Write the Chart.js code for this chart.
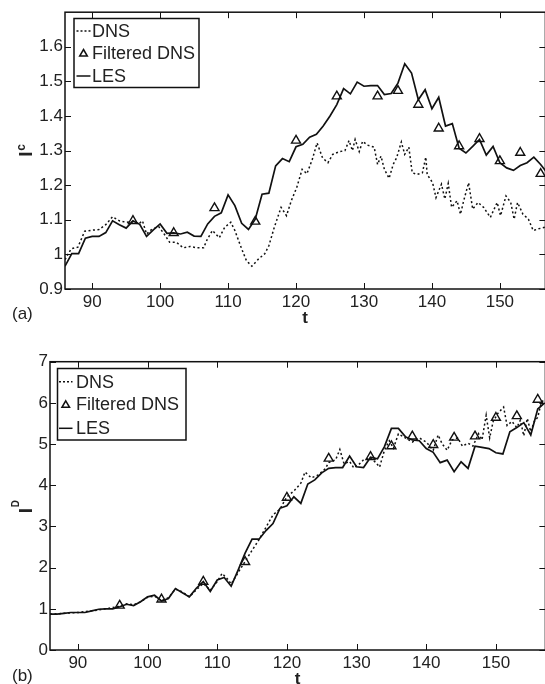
<!DOCTYPE html>
<html>
<head>
<meta charset="utf-8">
<script src="https://cdn.jsdelivr.net/npm/chart.js@4.4.0/dist/chart.umd.min.js"></script>
<style>
html, body { margin: 0; padding: 0; background: #fff; overflow: hidden; width: 545px; height: 684px; }
canvas { position: absolute; left: 0; }
#chartA { top: 0; }
#chartB { top: 340px; }
</style>
</head>
<body>
<canvas id="chartA" width="552" height="340"></canvas>
<canvas id="chartB" width="552" height="344"></canvas>
<script>
// series names
const seriesNames = ['DNS', 'Filtered DNS', 'LES'];

// axis ticks
const xTicks = [90, 100, 110, 120, 130, 140, 150];
const yTicksA = [0.9, 1, 1.1, 1.2, 1.3, 1.4, 1.5, 1.6];
const yTicksB = [0, 1, 2, 3, 4, 5, 6, 7];

// panel (a): I^c
const dnsTA = [86, 86.9, 87.9, 88.9, 90, 91, 92, 93, 94, 95, 96, 96.8, 97.4, 98, 98.8, 99.8, 100.6, 101.4, 102.4, 103.4,
  104.4, 105.4, 106.4, 106.9, 107.7, 108.7, 109.5, 110.4, 111, 112, 112.7, 113.5, 114.5, 115.4, 116, 116.8, 117.8, 118.6, 119.3, 120.1,
  120.9, 121.6, 122.4, 123.1, 123.9, 124.7, 125.4, 126.4, 127.2, 127.8, 128.3, 128.7, 129.3, 129.8, 130.5, 131.5, 132, 132.5, 133, 133.7,
  134.3, 134.8, 135.5, 136, 136.6, 137.1, 137.8, 138.6, 139.1, 139.3, 140.1, 140.6, 141.4, 141.9, 142.4, 142.9, 143.7, 144.2, 144.7, 145.4,
  146, 146.8, 147.6, 148.6, 149.6, 150.1, 150.9, 151.6, 152.1, 152.6, 153.4, 154.2, 154.9, 155.7, 157];
const dnsA = [0.985, 1.016, 1.021, 1.067, 1.070, 1.072, 1.086, 1.109, 1.097, 1.093, 1.095, 1.088, 1.097, 1.059, 1.073, 1.080, 1.059, 1.035, 1.035, 1.019,
  1.023, 1.019, 1.019, 1.042, 1.069, 1.048, 1.078, 1.093, 1.069, 1.016, 0.982, 0.966, 0.987, 1.002, 1.025, 1.078, 1.136, 1.112, 1.155, 1.193,
  1.246, 1.233, 1.275, 1.322, 1.279, 1.265, 1.289, 1.297, 1.300, 1.329, 1.300, 1.332, 1.297, 1.327, 1.316, 1.310, 1.260, 1.284, 1.246, 1.220,
  1.260, 1.279, 1.325, 1.289, 1.310, 1.236, 1.231, 1.236, 1.281, 1.231, 1.207, 1.164, 1.203, 1.160, 1.205, 1.136, 1.155, 1.116, 1.157, 1.207,
  1.131, 1.150, 1.136, 1.107, 1.150, 1.112, 1.169, 1.150, 1.102, 1.150, 1.116, 1.102, 1.069, 1.074, 1.080];

const filtT = [96, 102, 108, 114, 120, 126, 132, 135, 138, 141, 144, 147, 150, 153, 156];
const filtA = [1.097, 1.062, 1.134, 1.095, 1.329, 1.457, 1.457, 1.473, 1.433, 1.364, 1.313, 1.334, 1.270, 1.294, 1.233];

const lesT = [86, 87, 88, 89, 90, 91, 92, 93, 94, 95, 96, 97, 98, 99, 100, 101, 102, 103, 104, 105,
  106, 107, 108, 109, 110, 111, 112, 113, 114, 115, 116, 117, 118, 119, 120, 121, 122, 123, 124, 125,
  126, 127, 128, 129, 130, 131, 132, 133, 134, 135, 136, 137, 138, 139, 140, 141, 142, 143, 144, 145,
  146, 147, 148, 149, 150, 151, 152, 153, 154, 155, 156, 157];
const lesA = [0.966, 1.002, 1.002, 1.047, 1.052, 1.052, 1.063, 1.097, 1.086, 1.076, 1.097, 1.087, 1.052, 1.071, 1.088, 1.061, 1.062, 1.059, 1.064, 1.053,
  1.052, 1.088, 1.110, 1.120, 1.172, 1.141, 1.090, 1.072, 1.102, 1.174, 1.177, 1.256, 1.277, 1.268, 1.311, 1.318, 1.339, 1.347, 1.371, 1.400,
  1.433, 1.479, 1.464, 1.498, 1.486, 1.488, 1.488, 1.462, 1.465, 1.495, 1.551, 1.524, 1.447, 1.476, 1.421, 1.454, 1.371, 1.378, 1.307, 1.293,
  1.312, 1.332, 1.287, 1.312, 1.265, 1.250, 1.243, 1.257, 1.265, 1.281, 1.260, 1.235];

// panel (b): I^D
const dnsTB = [86, 88, 90, 92, 94, 96, 97, 98, 99, 100, 101, 102, 103, 104, 105, 106, 107, 108, 109, 110,
  110.7, 111.5, 112, 113, 114, 115, 116, 117, 118, 119, 120, 121, 122, 122.6, 123.5, 124.5, 125.5, 126, 127, 127.6,
  128.2, 129, 129.6, 130.3, 131, 132, 132.7, 133.3, 134, 134.7, 135.3, 136, 137, 138, 139, 140, 141, 141.7, 142.3, 143,
  143.7, 144.5, 145.2, 146, 146.7, 147.5, 148, 148.6, 149.1, 149.6, 150.3, 151.1, 151.6, 152.3, 153, 153.5, 154, 154.5, 155, 155.5,
  156, 156.5, 157];
const dnsB = [0.87, 0.89, 0.91, 0.95, 1.00, 1.06, 1.12, 1.10, 1.17, 1.28, 1.31, 1.20, 1.27, 1.48, 1.41, 1.29, 1.46, 1.62, 1.45, 1.66,
  1.86, 1.72, 1.60, 1.88, 2.15, 2.42, 2.68, 2.98, 3.28, 3.42, 3.72, 3.86, 4.05, 4.32, 4.18, 4.25, 4.40, 4.55, 4.62, 4.87,
  4.52, 4.58, 4.42, 4.50, 4.62, 4.66, 4.56, 4.44, 4.85, 5.08, 4.90, 5.25, 5.15, 5.05, 5.15, 5.05, 4.85, 5.22, 5.00, 4.85,
  5.10, 5.15, 4.95, 5.02, 4.95, 5.25, 5.10, 5.70, 5.15, 5.55, 5.75, 5.90, 5.45, 5.55, 5.40, 5.58, 5.20, 5.62, 5.30, 5.55,
  5.65, 6.00, 6.10];

const filtB = [1.08, 1.23, 1.66, 2.14, 3.70, 4.65, 4.69, 4.95, 5.19, 4.98, 5.16, 5.19, 5.64, 5.68, 6.08];

const lesB = [0.87, 0.87, 0.89, 0.91, 0.91, 0.91, 0.95, 0.99, 1.00, 1.00, 1.05, 1.11, 1.08, 1.17, 1.29, 1.33, 1.19, 1.25, 1.49, 1.39,
  1.29, 1.50, 1.66, 1.42, 1.70, 1.76, 1.55, 1.94, 2.35, 2.69, 2.69, 2.90, 3.07, 3.44, 3.50, 3.72, 3.56, 4.03, 4.13, 4.30,
  4.41, 4.43, 4.43, 4.71, 4.45, 4.43, 4.68, 4.64, 4.94, 5.38, 5.38, 5.18, 5.10, 5.08, 4.89, 4.80, 4.55, 4.61, 4.33, 4.57,
  4.41, 4.95, 4.92, 4.89, 4.79, 4.76, 5.30, 5.40, 5.52, 5.22, 5.85, 6.00];

const FONT = 'Liberation Sans, Arial, Helvetica, sans-serif';
const INK = '#111';

const pts = (xs, ys) => xs.map((x, i) => ({ x: x, y: ys[i] }));

// boxed axes, inward ticks, legend and labels drawn on top of the chart
const decor = {
  id: 'decor',
  afterDraw(chart, args, o) {
    const ctx = chart.ctx;
    const a = chart.chartArea;
    const sx = chart.scales.x, sy = chart.scales.y;
    ctx.save();
    ctx.strokeStyle = INK;
    ctx.lineWidth = 1.5;
    ctx.setLineDash([]);
    ctx.strokeRect(a.left, a.top, a.right - a.left, a.bottom - a.top);
    ctx.lineWidth = 1;
    ctx.beginPath();
    xTicks.forEach(v => {
      const p = Math.round(sx.getPixelForValue(v)) + 0.5;
      ctx.moveTo(p, a.bottom); ctx.lineTo(p, a.bottom - 6);
      ctx.moveTo(p, a.top); ctx.lineTo(p, a.top + 6);
    });
    o.yTicks.forEach(v => {
      const p = Math.round(sy.getPixelForValue(v)) + 0.5;
      ctx.moveTo(a.left, p); ctx.lineTo(a.left + 6, p);
      ctx.moveTo(a.right, p); ctx.lineTo(a.right - 6, p);
    });
    ctx.stroke();

    // legend
    const L = o.legend;
    ctx.fillStyle = '#fff';
    ctx.fillRect(L.x, L.y, L.w, L.h);
    ctx.lineWidth = 1.5;
    ctx.strokeRect(L.x, L.y, L.w, L.h);
    ctx.font = '18px ' + FONT;
    ctx.fillStyle = '#222';
    ctx.textBaseline = 'middle';
    ctx.textAlign = 'left';
    seriesNames.forEach((name, i) => {
      const y = L.rows[i];
      ctx.fillText(name, L.textX, y + 1);
      ctx.lineWidth = 1.5;
      ctx.beginPath();
      if (i === 0) {
        ctx.setLineDash([2, 2]);
        ctx.moveTo(L.s0, y); ctx.lineTo(L.s1, y);
      } else if (i === 1) {
        ctx.setLineDash([]);
        const c = (L.s0 + L.s1) / 2;
        ctx.moveTo(c, y - 3.5); ctx.lineTo(c + 3.8, y + 3); ctx.lineTo(c - 3.8, y + 3); ctx.closePath();
      } else {
        ctx.setLineDash([]);
        ctx.moveTo(L.s0, y); ctx.lineTo(L.s1, y);
      }
      ctx.stroke();
    });
    ctx.setLineDash([]);

    // x axis title
    ctx.font = 'bold 17px ' + FONT;
    ctx.textAlign = 'center';
    ctx.fillText('t', (a.left + a.right) / 2, o.tY);

    // panel letter
    ctx.font = '17px ' + FONT;
    ctx.textAlign = 'left';
    ctx.fillText(o.panel, 12, o.panelY);

    // y axis title, rotated, with superscript
    ctx.translate(32, o.yLab.y);
    ctx.rotate(-Math.PI / 2);
    ctx.textBaseline = 'alphabetic';
    ctx.font = 'bold 19px ' + FONT;
    const wI = ctx.measureText('I').width;
    ctx.fillText('I', -wI / 2, 0);
    ctx.font = 'bold ' + o.yLab.supSize + 'px ' + FONT;
    ctx.fillText(o.yLab.sup, wI / 2 + 0.5, -o.yLab.shift);
    ctx.restore();
  }
};

function makeChart(id, p) {
  const tickFont = { family: FONT, size: 17 };
  return new Chart(document.getElementById(id), {
    type: 'line',
    data: {
      datasets: [
        { label: seriesNames[0], data: pts(p.dnsT, p.dns), borderColor: INK, borderWidth: 1.5,
          borderDash: [2, 2.5], pointRadius: 0, tension: 0, fill: false },
        { label: seriesNames[1], data: pts(filtT, p.filt), showLine: false, pointStyle: 'triangle',
          pointRadius: 5.2, pointBorderWidth: 1.4, pointBorderColor: INK, pointBackgroundColor: 'rgba(0,0,0,0)' },
        { label: seriesNames[2], data: pts(lesT, p.les), borderColor: INK, borderWidth: 1.7,
          pointRadius: 0, tension: 0, fill: false }
      ]
    },
    options: {
      responsive: false,
      animation: false,
      events: [],
      layout: { padding: { top: p.top, right: 2, left: 0, bottom: 0 } },
      plugins: {
        legend: { display: false },
        tooltip: { enabled: false },
        decor: p.decor
      },
      scales: {
        x: {
          type: 'linear', min: 86, max: p.xMax,
          afterBuildTicks: s => { s.ticks = xTicks.map(v => ({ value: v })); },
          afterFit: s => { s.height = p.xH; },
          grid: { display: false, drawTicks: false },
          border: { display: false },
          ticks: { font: tickFont, color: '#222', padding: 3, maxRotation: 0, autoSkip: false }
        },
        y: {
          min: p.yMin, max: p.yMax,
          afterBuildTicks: s => { s.ticks = p.yTicks.map(v => ({ value: v })); },
          afterFit: s => { s.width = p.yW; },
          grid: { display: false, drawTicks: false },
          border: { display: false },
          ticks: { font: tickFont, color: '#222', padding: 2, callback: v => String(v) }
        }
      }
    },
    plugins: [decor]
  });
}

makeChart('chartA', {
  dnsT: dnsTA, dns: dnsA, filt: filtA, les: lesA,
  xMax: 156.7, yMin: 0.9, yMax: 1.7, yTicks: yTicksA,
  top: 10, xH: 51, yW: 65,
  decor: {
    yTicks: yTicksA,
    legend: { x: 74, y: 18.5, w: 125, h: 69, rows: [31, 53, 76], s0: 76.5, s1: 90.5, textX: 92 },
    tY: 318, panel: '(a)', panelY: 314,
    yLab: { y: 154, sup: 'c', supSize: 12, shift: 7 }
  }
});

makeChart('chartB', {
  dnsT: dnsTB, dns: dnsB, filt: filtB, les: lesB,
  xMax: 157.1, yMin: 0, yMax: 7, yTicks: yTicksB,
  top: 21.7, xH: 34, yW: 50,
  decor: {
    yTicks: yTicksB,
    legend: { x: 57.5, y: 28.5, w: 128.5, h: 71.5, rows: [41.7, 64.3, 88.3], s0: 59, s1: 72.5, textX: 76 },
    tY: 339, panel: '(b)', panelY: 336,
    yLab: { y: 170.5, sup: 'D', supSize: 10, shift: 13 }
  }
});
</script>
</body>
</html>
